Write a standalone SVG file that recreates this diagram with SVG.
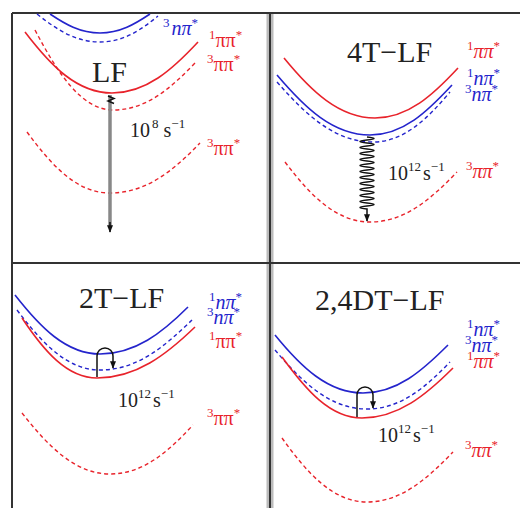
<svg xmlns="http://www.w3.org/2000/svg" width="520" height="508" viewBox="0 0 520 508">
<style>
.bg{fill:#fff}
.frame{stroke:#333;stroke-width:2;fill:none}
.rs{stroke:#e8232b;stroke-width:1.6;fill:none}
.rd{stroke:#e8232b;stroke-width:1.4;fill:none;stroke-dasharray:4 3}
.bs{stroke:#2424cc;stroke-width:1.6;fill:none}
.bd{stroke:#2424cc;stroke-width:1.4;fill:none;stroke-dasharray:4 3}
.ttl{font-family:"Liberation Serif","DejaVu Serif",serif;font-size:30px;fill:#222}
.rate{font-family:"Liberation Serif","DejaVu Serif",serif;font-size:20px;fill:#222}
.lbl{font-family:"Liberation Serif","DejaVu Serif",serif;font-size:20px}
.sup{font-size:13px}
.red{fill:#e8232b}
.blue{fill:#2424cc}
.it{font-style:italic}
.tr{stroke:#111;stroke-width:1.5;fill:none}
</style>
<defs>
<marker id="ah" viewBox="0 0 10 10" refX="9" refY="5" markerWidth="5" markerHeight="5" orient="auto"><path d="M0,1 L10,5 L0,9 z" fill="#111"/></marker>
</defs>
<rect class="bg" x="0" y="0" width="520" height="508"/>
<g id="frame">
<line x1="270" y1="13" x2="270" y2="508" stroke="#bbb" stroke-width="7"/>
<line class="frame" x1="270" y1="13" x2="270" y2="508"/>
<line class="frame" x1="12" y1="13" x2="520" y2="13"/>
<line class="frame" x1="12" y1="13" x2="12" y2="508"/>
<line class="frame" x1="12" y1="263" x2="520" y2="263"/>
</g>

<g id="panel-LF">
<path class="bs" d="M50,14 C65,24 80,33 100,33 C120,33 135,24 150,14"/>
<path class="bd" d="M37,14 C56,29 75,42 100,42 C123,42 141,30 158,16"/>
<path class="rs" d="M25,32 C51,66 77,93 112,93 C146,93 172,70 198,42"/>
<path class="rd" d="M35,30 C58,74 82,110 113,110 C146,110 170,89 195,63"/>
<path class="rd" d="M27,132 C52,166 77,193 110,193 C146,193 173,171 200,143"/>
<text class="ttl" x="92" y="82">LF</text>
<text class="lbl blue" x="163" y="35"><tspan class="sup" dy="-8">3</tspan><tspan class="it" dy="8" dx="2">nπ</tspan><tspan class="sup" dy="-8">*</tspan></text>
<text class="lbl red" x="209" y="47"><tspan class="sup" dy="-8">1</tspan><tspan dy="8">ππ</tspan><tspan class="sup" dy="-8">*</tspan></text>
<text class="lbl red" x="207" y="71"><tspan class="sup" dy="-8">3</tspan><tspan dy="8">ππ</tspan><tspan class="sup" dy="-8">*</tspan></text>
<text class="lbl red" x="207" y="155"><tspan class="sup" dy="-8">3</tspan><tspan dy="8">ππ</tspan><tspan class="sup" dy="-8">*</tspan></text>
</g>

<g id="panel-4T-LF">
<path class="rs" d="M284,58 C311,91 339,118 375,118 C408,118 433,95 458,68"/>
<path class="bs" d="M277,75 C305,108 333,135 370,135 C403,135 427,112 452,85"/>
<path class="bd" d="M277,82 C306,115 335,142 373,142 C404,142 427,119 450,92"/>
<path class="rd" d="M285,162 C310,195 336,222 370,222 C405,222 431,199 457,172"/>
<text class="ttl" x="347" y="62">4T−LF</text>
<text class="lbl red" x="467" y="58"><tspan class="sup" dy="-8">1</tspan><tspan class="it" dy="8">ππ</tspan><tspan class="sup" dy="-8">*</tspan></text>
<text class="lbl blue" x="467" y="85"><tspan class="sup" dy="-8">1</tspan><tspan class="it" dy="8">nπ</tspan><tspan class="sup" dy="-8">*</tspan></text>
<text class="lbl blue" x="465" y="101"><tspan class="sup" dy="-8">3</tspan><tspan class="it" dy="8">nπ</tspan><tspan class="sup" dy="-8">*</tspan></text>
<text class="lbl red" x="466" y="178"><tspan class="sup" dy="-8">3</tspan><tspan class="it" dy="8">ππ</tspan><tspan class="sup" dy="-8">*</tspan></text>
</g>

<g id="panel-2T-LF">
<path class="bs" d="M15,295 C40,327 66,354 100,354 C135,354 162,333 188,307"/>
<path class="bd" d="M17,310 C42,343 67,370 100,370 C137,370 164,347 192,320"/>
<path class="rs" d="M22,318 C44,351 67,378 97,378 C136,378 166,355 195,327"/>
<path class="rd" d="M22,413 C48,446 75,474 110,474 C143,474 168,452 193,425"/>
<text class="ttl" x="79" y="308">2T−LF</text>
<text class="lbl blue" x="209" y="309"><tspan class="sup" dy="-8">1</tspan><tspan class="it" dy="8">nπ</tspan><tspan class="sup" dy="-8">*</tspan></text>
<text class="lbl blue" x="207" y="324"><tspan class="sup" dy="-8">3</tspan><tspan class="it" dy="8">nπ</tspan><tspan class="sup" dy="-8">*</tspan></text>
<text class="lbl red" x="209" y="348"><tspan class="sup" dy="-8">1</tspan><tspan dy="8">ππ</tspan><tspan class="sup" dy="-8">*</tspan></text>
<text class="lbl red" x="207" y="425"><tspan class="sup" dy="-8">3</tspan><tspan dy="8">ππ</tspan><tspan class="sup" dy="-8">*</tspan></text>
</g>

<g id="panel-24DT-LF">
<path class="bs" d="M275,335 C301,367 328,393 363,393 C397,393 422,371 448,345"/>
<path class="bd" d="M275,350 C302,382 330,409 367,409 C400,409 425,388 450,362"/>
<path class="rs" d="M282,357 C306,390 330,418 362,418 C398,418 426,395 453,368"/>
<path class="rd" d="M282,438 C307,473 333,502 367,502 C401,502 427,479 453,452"/>
<text class="ttl" x="315" y="310">2,4DT−LF</text>
<text class="lbl blue" x="467" y="336"><tspan class="sup" dy="-8">1</tspan><tspan class="it" dy="8">nπ</tspan><tspan class="sup" dy="-8">*</tspan></text>
<text class="lbl blue" x="465" y="352"><tspan class="sup" dy="-8">3</tspan><tspan class="it" dy="8">nπ</tspan><tspan class="sup" dy="-8">*</tspan></text>
<text class="lbl red" x="467" y="368"><tspan class="sup" dy="-8">1</tspan><tspan class="it" dy="8">ππ</tspan><tspan class="sup" dy="-8">*</tspan></text>
<text class="lbl red" x="465" y="457"><tspan class="sup" dy="-8">3</tspan><tspan class="it" dy="8">ππ</tspan><tspan class="sup" dy="-8">*</tspan></text>
</g>

<g id="connectors">
<line x1="110" y1="95" x2="110" y2="226" stroke="#888" stroke-width="3.5"/>
<path d="M110,222 L110,232" class="tr" marker-end="url(#ah)"/>
<path d="M108,96 l6,2.5 l-6,2.5 l6,2.5" stroke="#111" stroke-width="1.5" fill="none"/>
<text class="rate" x="130" y="137">10<tspan class="sup" dy="-9" dx="2">8</tspan><tspan dy="9" dx="5">s</tspan><tspan class="sup" dy="-9">−1</tspan></text>

<path class="tr" stroke-width="1.8" marker-end="url(#ah)" d="M367,137 q14,1.5 0,3 q-14,1.5 0,3 q14,1.5 0,3 q-14,1.5 0,3 q14,1.5 0,3 q-14,1.5 0,3 q14,1.5 0,3 q-14,1.5 0,3 q14,1.5 0,3 q-14,1.5 0,3 q14,1.5 0,3 q-14,1.5 0,3 q14,1.5 0,3 q-14,1.5 0,3 q14,1.5 0,3 q-14,1.5 0,3 q14,1.5 0,3 q-14,1.5 0,3 q14,1.5 0,3 q-14,1.5 0,3 q14,1.5 0,3 q-14,1.5 0,3 q14,1.5 0,3 q-14,1.5 0,3 l0,12"/>
<text class="rate" x="388" y="180">10<tspan class="sup" dy="-9">12</tspan><tspan dy="9" dx="2">s</tspan><tspan class="sup" dy="-9">−1</tspan></text>

<path class="tr" marker-end="url(#ah)" d="M97,377 L97,356 A8,8 0 0 1 113,356 L113,368"/>
<text class="rate" x="118" y="407">10<tspan class="sup" dy="-9">12</tspan><tspan dy="9" dx="2">s</tspan><tspan class="sup" dy="-9">−1</tspan></text>

<path class="tr" marker-end="url(#ah)" d="M357,417 L357,395 A8,8 0 0 1 373,395 L373,408"/>
<text class="rate" x="378" y="442">10<tspan class="sup" dy="-9">12</tspan><tspan dy="9" dx="2">s</tspan><tspan class="sup" dy="-9">−1</tspan></text>
</g>
</svg>
